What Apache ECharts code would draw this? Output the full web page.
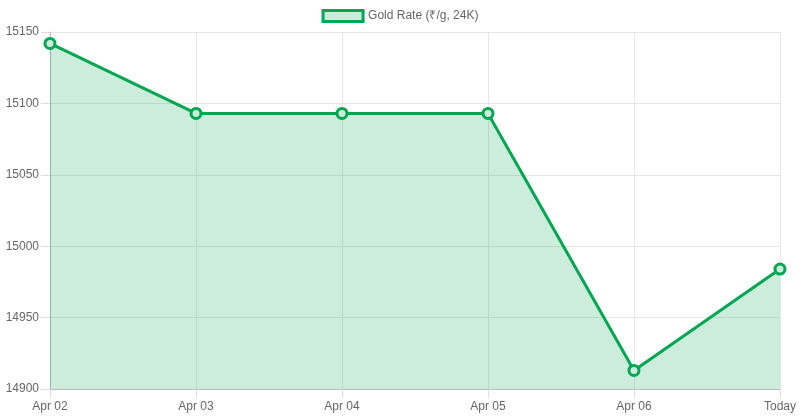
<!DOCTYPE html>
<html>
<head>
<meta charset="utf-8">
<script src="https://cdn.jsdelivr.net/npm/echarts@6/dist/echarts.min.js"></script>
<style>html,body{margin:0;padding:0;background:#fff}#c{width:800px;height:420px}</style>
</head>
<body>
<div id="c"></div>
<script>
const categories = ['Apr 02', 'Apr 03', 'Apr 04', 'Apr 05', 'Apr 06', 'Today'];
const goldRate = [15142, 15093, 15093, 15093, 14913, 14984];
const seriesName = 'Gold Rate (₹/g, 24K)';
const yMin = 14900, yMax = 15150, yStep = 50;

const chart = echarts.init(document.getElementById('c'), null, {renderer: 'canvas'});
const font = '"Liberation Sans", Arial, Helvetica, sans-serif';
chart.setOption({
  animation: false,
  textStyle: {fontFamily: font},
  legend: {
    top: 9,
    left: 'center',
    itemWidth: 40,
    itemHeight: 11,
    itemGap: 10,
    icon: 'rect',
    textStyle: {color: '#666', fontSize: 12, fontFamily: font, padding: [0,0,0,0]},
    itemStyle: {color: 'rgba(206,236,220,1)', borderColor: '#00a651', borderWidth: 3},
    padding: 0,
    data: [seriesName]
  },
  grid: {left: 50, right: 20, top: 32, bottom: 31, containLabel: false},
  xAxis: {
    type: 'category',
    boundaryGap: false,
    data: categories,
    axisLine: {show: true, lineStyle: {color: '#bbb', width: 1}},
    axisTick: {show: true, length: 9, lineStyle: {color: '#ddd'}},
    axisLabel: {color: '#666', fontSize: 12, margin: 12, fontFamily: font},
    splitLine: {show: true, lineStyle: {color: '#e6e6e6', width: 1}}
  },
  yAxis: {
    type: 'value',
    min: yMin, max: yMax, interval: yStep,
    axisLine: {show: true, lineStyle: {color: '#bbb', width: 1}},
    axisTick: {show: true, length: 9, lineStyle: {color: '#ddd'}},
    axisLabel: {color: '#666', fontSize: 12, margin: 11, fontFamily: font, formatter: v => String(v)},
    splitLine: {show: true, lineStyle: {color: '#e6e6e6', width: 1}}
  },
  series: [{
    name: seriesName,
    type: 'line',
    data: goldRate,
    symbol: 'circle',
    symbolSize: 10,
    showAllSymbol: true,
    lineStyle: {color: '#00a651', width: 3},
    itemStyle: {color: 'rgba(206,236,220,1)', borderColor: '#00a651', borderWidth: 3},
    areaStyle: {color: 'rgba(0,166,81,0.2)', opacity: 1, origin: 'start'},
    emphasis: {disabled: true}
  }]
});
</script>
</body>
</html>
